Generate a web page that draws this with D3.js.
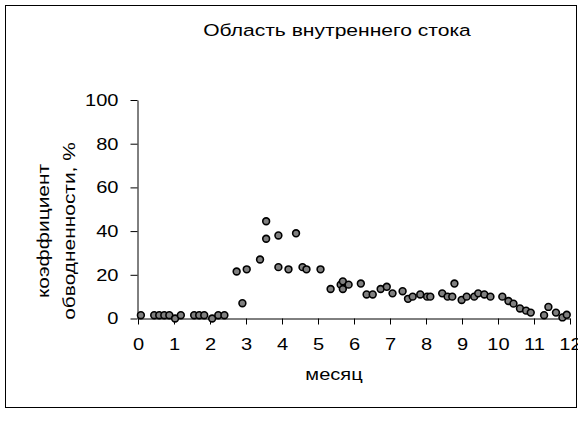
<!DOCTYPE html>
<html><head><meta charset="utf-8">
<script src="https://cdn.jsdelivr.net/npm/d3@7"></script>
<style>body{margin:0;background:#fff}svg{display:block;font-family:"Liberation Sans",Arial,sans-serif}</style>
</head><body>
<svg id="c" width="578" height="423"></svg>
<script>
const title = "Область внутреннего стока";
const xLabel = "месяц";
const yLabelLines = ["коэффициент", "обводненности, %"];
const xTicks = [0,1,2,3,4,5,6,7,8,9,10,11,12];
const yTicks = [0,20,40,60,80,100];
const months = [0.08,0.45,0.59,0.73,0.87,1.03,1.19,1.56,1.70,1.84,2.06,2.23,2.40,
 2.74,2.90,3.02,3.39,3.56,3.56,3.90,3.90,4.18,4.39,4.57,4.68,5.07,
 5.35,5.63,5.69,5.69,5.85,6.19,6.35,6.52,6.74,6.91,7.07,7.35,7.50,7.63,7.84,8.03,8.12,
 8.45,8.60,8.73,8.79,8.99,9.13,9.34,9.45,9.62,9.79,10.12,10.29,10.43,10.61,10.78,10.91,
 11.28,11.40,11.61,11.79,11.91];
const values = [1.5,1.5,1.5,1.5,1.5,0,1.5,1.5,1.5,1.5,0,1.5,1.5,
 21.5,7,22.5,27,44.5,36.5,38,23.5,22.5,39,23.5,22.5,22.5,
 13.5,15.5,17,13.5,15.5,16,11,11,13.5,14.5,11.5,12.5,9,10,11,10,10,
 11.5,10,10,16,8.5,10,10,11.5,11,10,10,8,6.8,4.6,3.6,2.7,
 1.5,5.3,2.7,0.5,1.7];

const SX = 1.18; // horizontal stretch of the text as in the reference
const svg = d3.select("#c");
svg.append("rect").attr("x",5.5).attr("y",5.5).attr("width",571).attr("height",402)
  .attr("fill","#fff").attr("stroke","#000").attr("stroke-width",1);

const x = d3.scaleLinear().domain([0,12]).range([138,570]);
const y = d3.scaleLinear().domain([0,100]).range([318.5,100]);

const gx = svg.append("g").attr("transform","translate(0,318.5)")
  .call(d3.axisBottom(x).tickValues(xTicks).tickSize(6).tickPadding(13).tickSizeOuter(0));
const gy = svg.append("g").attr("transform","translate(137.5,0)")
  .call(d3.axisLeft(y).tickValues(yTicks).tickSize(7).tickPadding(10).tickSizeOuter(0));
[gx,gy].forEach(g=>{
  g.selectAll("path,line").attr("stroke","#000").attr("stroke-width",1);
  g.selectAll("text").attr("font-size",17).attr("fill","#000")
   .attr("font-family","'Liberation Sans',Arial,sans-serif");
});
gx.selectAll(".tick text").attr("transform",`scale(${SX},1)`);
gy.selectAll(".tick text").attr("x",-19/SX).attr("transform",`scale(${SX},1)`);

svg.append("g").selectAll("circle").data(months.map((m,i)=>[m,values[i]])).join("circle")
  .attr("cx",d=>x(d[0])).attr("cy",d=>y(d[1])).attr("r",3.4)
  .attr("fill","#808080").attr("stroke","#000").attr("stroke-width",1.6);

svg.append("text").attr("transform",`translate(337,36) scale(${SX+0.06},1)`).attr("text-anchor","middle")
  .attr("font-size",17).text(title);
svg.append("text").attr("transform",`translate(334,380) scale(${SX},1)`).attr("text-anchor","middle")
  .attr("font-size",17).text(xLabel);
const yl = svg.append("text").attr("transform",`translate(49,231) rotate(-90) scale(${SX+0.05},1)`)
  .attr("text-anchor","middle").attr("font-size",17);
yLabelLines.forEach((t,i)=>yl.append("tspan").attr("x",0).attr("dy",i===0?0:26).text(t));
</script>
</body></html>
